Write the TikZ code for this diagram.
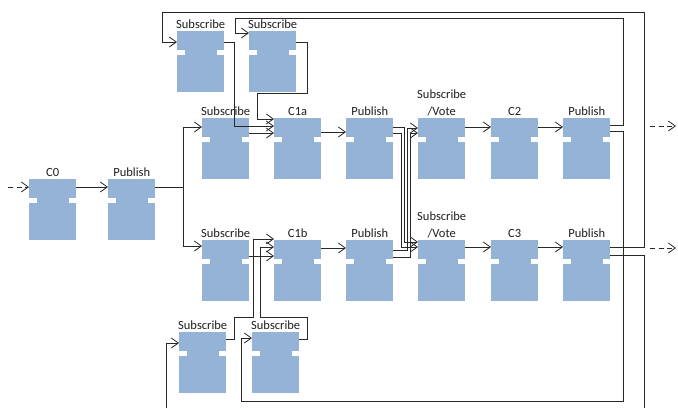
\documentclass[tikz,border=0pt]{standalone}
\usepackage{fontspec}
\setmainfont{Carlito}
\usetikzlibrary{arrows.meta}
\definecolor{blkc}{HTML}{95B3D7}
\definecolor{lnc}{HTML}{282828}
\begin{document}
\begin{tikzpicture}[x=1pt,y=-1pt,
  blk/.style={rectangle, fill=blkc, minimum width=47pt, minimum height=61pt, inner sep=0pt, anchor=north west,
    path picture={
      \fill[white] ([yshift=-19pt]path picture bounding box.north west) rectangle ++(7.5pt,-5pt);
      \fill[white] ([yshift=-19pt]path picture bounding box.north east) rectangle ++(-7.5pt,-5pt);
    }},
  lbl/.style={font=\fontsize{12.5}{16}\selectfont, inner sep=0pt, anchor=base, text=black!88},
  ln/.style={draw=lnc, line width=0.8pt},
  arr/.style={ln, -{Straight Barb[length=7pt,width=10pt]}},
  darr/.style={arr, dash pattern=on 5pt off 3.5pt}
]
\fill[white] (0,0) rectangle (678,408);
\useasboundingbox (0,0) rectangle (678,408);

% blocks
\node[blk] (C0) at (29,179) {};
\node[blk] (P0) at (108,179) {};
\node[blk] (S1) at (177,31) {};
\node[blk] (S2) at (249,31) {};
\node[blk] (R1S) at (202,118) {};
\node[blk] (C1a) at (274,118) {};
\node[blk] (P1) at (346,118) {};
\node[blk] (SV1) at (418,118) {};
\node[blk] (C2) at (491,118) {};
\node[blk] (P3) at (563,118) {};
\node[blk] (R2S) at (202,240) {};
\node[blk] (C1b) at (274,240) {};
\node[blk] (P2) at (346,240) {};
\node[blk] (SV2) at (418,240) {};
\node[blk] (C3) at (491,240) {};
\node[blk] (P4) at (563,240) {};
\node[blk] (B1) at (179,332) {};
\node[blk] (B2) at (252,332) {};

% labels
\node[lbl] (tC0) at ([yshift=3pt]C0.north) {C0};
\node[lbl] (tP0) at ([yshift=3pt]P0.north) {Publish};
\node[lbl] (tS1) at ([yshift=3pt]S1.north) {Subscribe};
\node[lbl] (tS2) at ([yshift=3pt]S2.north) {Subscribe};
\node[lbl] (tR1S) at ([yshift=3pt]R1S.north) {Subscribe};
\node[lbl] (tC1a) at ([yshift=3pt]C1a.north) {C1a};
\node[lbl] (tP1) at ([yshift=3pt]P1.north) {Publish};
\node[lbl] (tSV1b) at ([yshift=3pt]SV1.north) {/Vote};
\node[lbl] (tSV1a) at ([yshift=20pt]SV1.north) {Subscribe};
\node[lbl] (tC2) at ([yshift=3pt]C2.north) {C2};
\node[lbl] (tP3) at ([yshift=3pt]P3.north) {Publish};
\node[lbl] (tR2S) at ([yshift=3pt]R2S.north) {Subscribe};
\node[lbl] (tC1b) at ([yshift=3pt]C1b.north) {C1b};
\node[lbl] (tP2) at ([yshift=3pt]P2.north) {Publish};
\node[lbl] (tSV2b) at ([yshift=3pt]SV2.north) {/Vote};
\node[lbl] (tSV2a) at ([yshift=20pt]SV2.north) {Subscribe};
\node[lbl] (tC3) at ([yshift=3pt]C3.north) {C3};
\node[lbl] (tP4) at ([yshift=3pt]P4.north) {Publish};
\node[lbl] (tB1) at ([yshift=3pt]B1.north) {Subscribe};
\node[lbl] (tB2) at ([yshift=3pt]B2.north) {Subscribe};

% free ends
\coordinate (in0) at (8,187);
\coordinate (o1s) at (650,126);
\coordinate (o1e) at (676,126);
\coordinate (o2s) at (650,248);
\coordinate (o2e) at (676,248);
\coordinate (botL) at (166,408);

% connectors
\draw[darr] (in0) -- ([yshift=-8pt]C0.north west);
\draw[arr] ([yshift=-8pt]C0.north east) -- ([yshift=-8pt]P0.north west);
\draw[arr] ([yshift=-8pt]P0.north east) -- ++(28pt,0) |- ([yshift=-9pt]R1S.north west);
\draw[arr] ([yshift=-8pt]P0.north east) -- ++(28pt,0) |- ([yshift=-6pt]R2S.north west);

\draw[arr] ([yshift=-15pt]R1S.north east) -- ([yshift=-15pt]C1a.north west);
\draw[arr] ([yshift=-11pt]S1.north east) -- ++(10pt,0) |- ([yshift=-8pt]C1a.north west);
\draw[arr] ([yshift=-11pt]S2.north east) -- ++(11pt,0) -- ++(0,-51pt) -- ++(-50pt,0) |- ([yshift=-1pt]C1a.north west);

\draw[arr] ([yshift=-16pt]R2S.north east) -- ([yshift=-16pt]C1b.north west);
\draw[arr] ([yshift=-7pt]B1.north east) -- ++(8pt,0) -- ++(0,22pt) -- ++(19pt,0) |- ([yshift=1pt]C1b.north west);
\draw[arr] ([yshift=-7pt]B2.north east) -- ++(8pt,0) -- ++(0,22pt) -- ++(-47pt,0) |- ([yshift=-7pt]C1b.north west);

\draw[arr] ([yshift=-14pt]C1a.north east) -- ([yshift=-14pt]P1.north west);
\draw[arr] ([yshift=-8pt]C1b.north east) -- ([yshift=-8pt]P2.north west);

\draw[arr] ([yshift=-9pt]P1.north east) -- ++(11pt,0) |- ([yshift=-2pt]SV2.north west);
\draw[arr] ([yshift=-15pt]P1.north east) -- ++(8pt,0) |- ([yshift=-7pt]SV2.north west);
\draw[arr] ([yshift=-10pt]P2.north east) -- ++(14pt,0) |- ([yshift=-10pt]SV1.north west);
\draw[arr] ([yshift=-17pt]P2.north east) -- ++(17pt,0) |- ([yshift=-15pt]SV1.north west);

\draw[arr] ([yshift=-9pt]SV1.north east) -- ([yshift=-9pt]C2.north west);
\draw[arr] ([yshift=-9pt]C2.north east) -- ([yshift=-9pt]P3.north west);
\draw[arr] ([yshift=-7pt]SV2.north east) -- ([yshift=-7pt]C3.north west);
\draw[arr] ([yshift=-7pt]C3.north east) -- ([yshift=-7pt]P4.north west);

\draw[arr] ([yshift=-7pt]P3.north east) -- ++(13pt,0) -- ++(0,107pt) -- ++(-388pt,0) |- ([yshift=-2pt]S2.north west);
\draw[arr] ([yshift=-13pt]P3.north east) -- ++(13pt,0) -- ++(0,-270pt) -- ++(-382pt,0) |- ([yshift=-6pt]B2.north west);
\draw[arr] ([yshift=-7pt]P4.north east) -- ++(34pt,0) -- ++(0,235pt) -- ++(-482pt,0) |- ([yshift=-11pt]S1.north west);
\draw[ln] ([yshift=-15pt]P4.north east) -- ++(34pt,0) -- ++(0,-153pt);
\draw[arr] (botL) |- ([yshift=-11pt]B1.north west);

\draw[darr] (o1s) -- (o1e);
\draw[darr] (o2s) -- (o2e);
\end{tikzpicture}
\end{document}
